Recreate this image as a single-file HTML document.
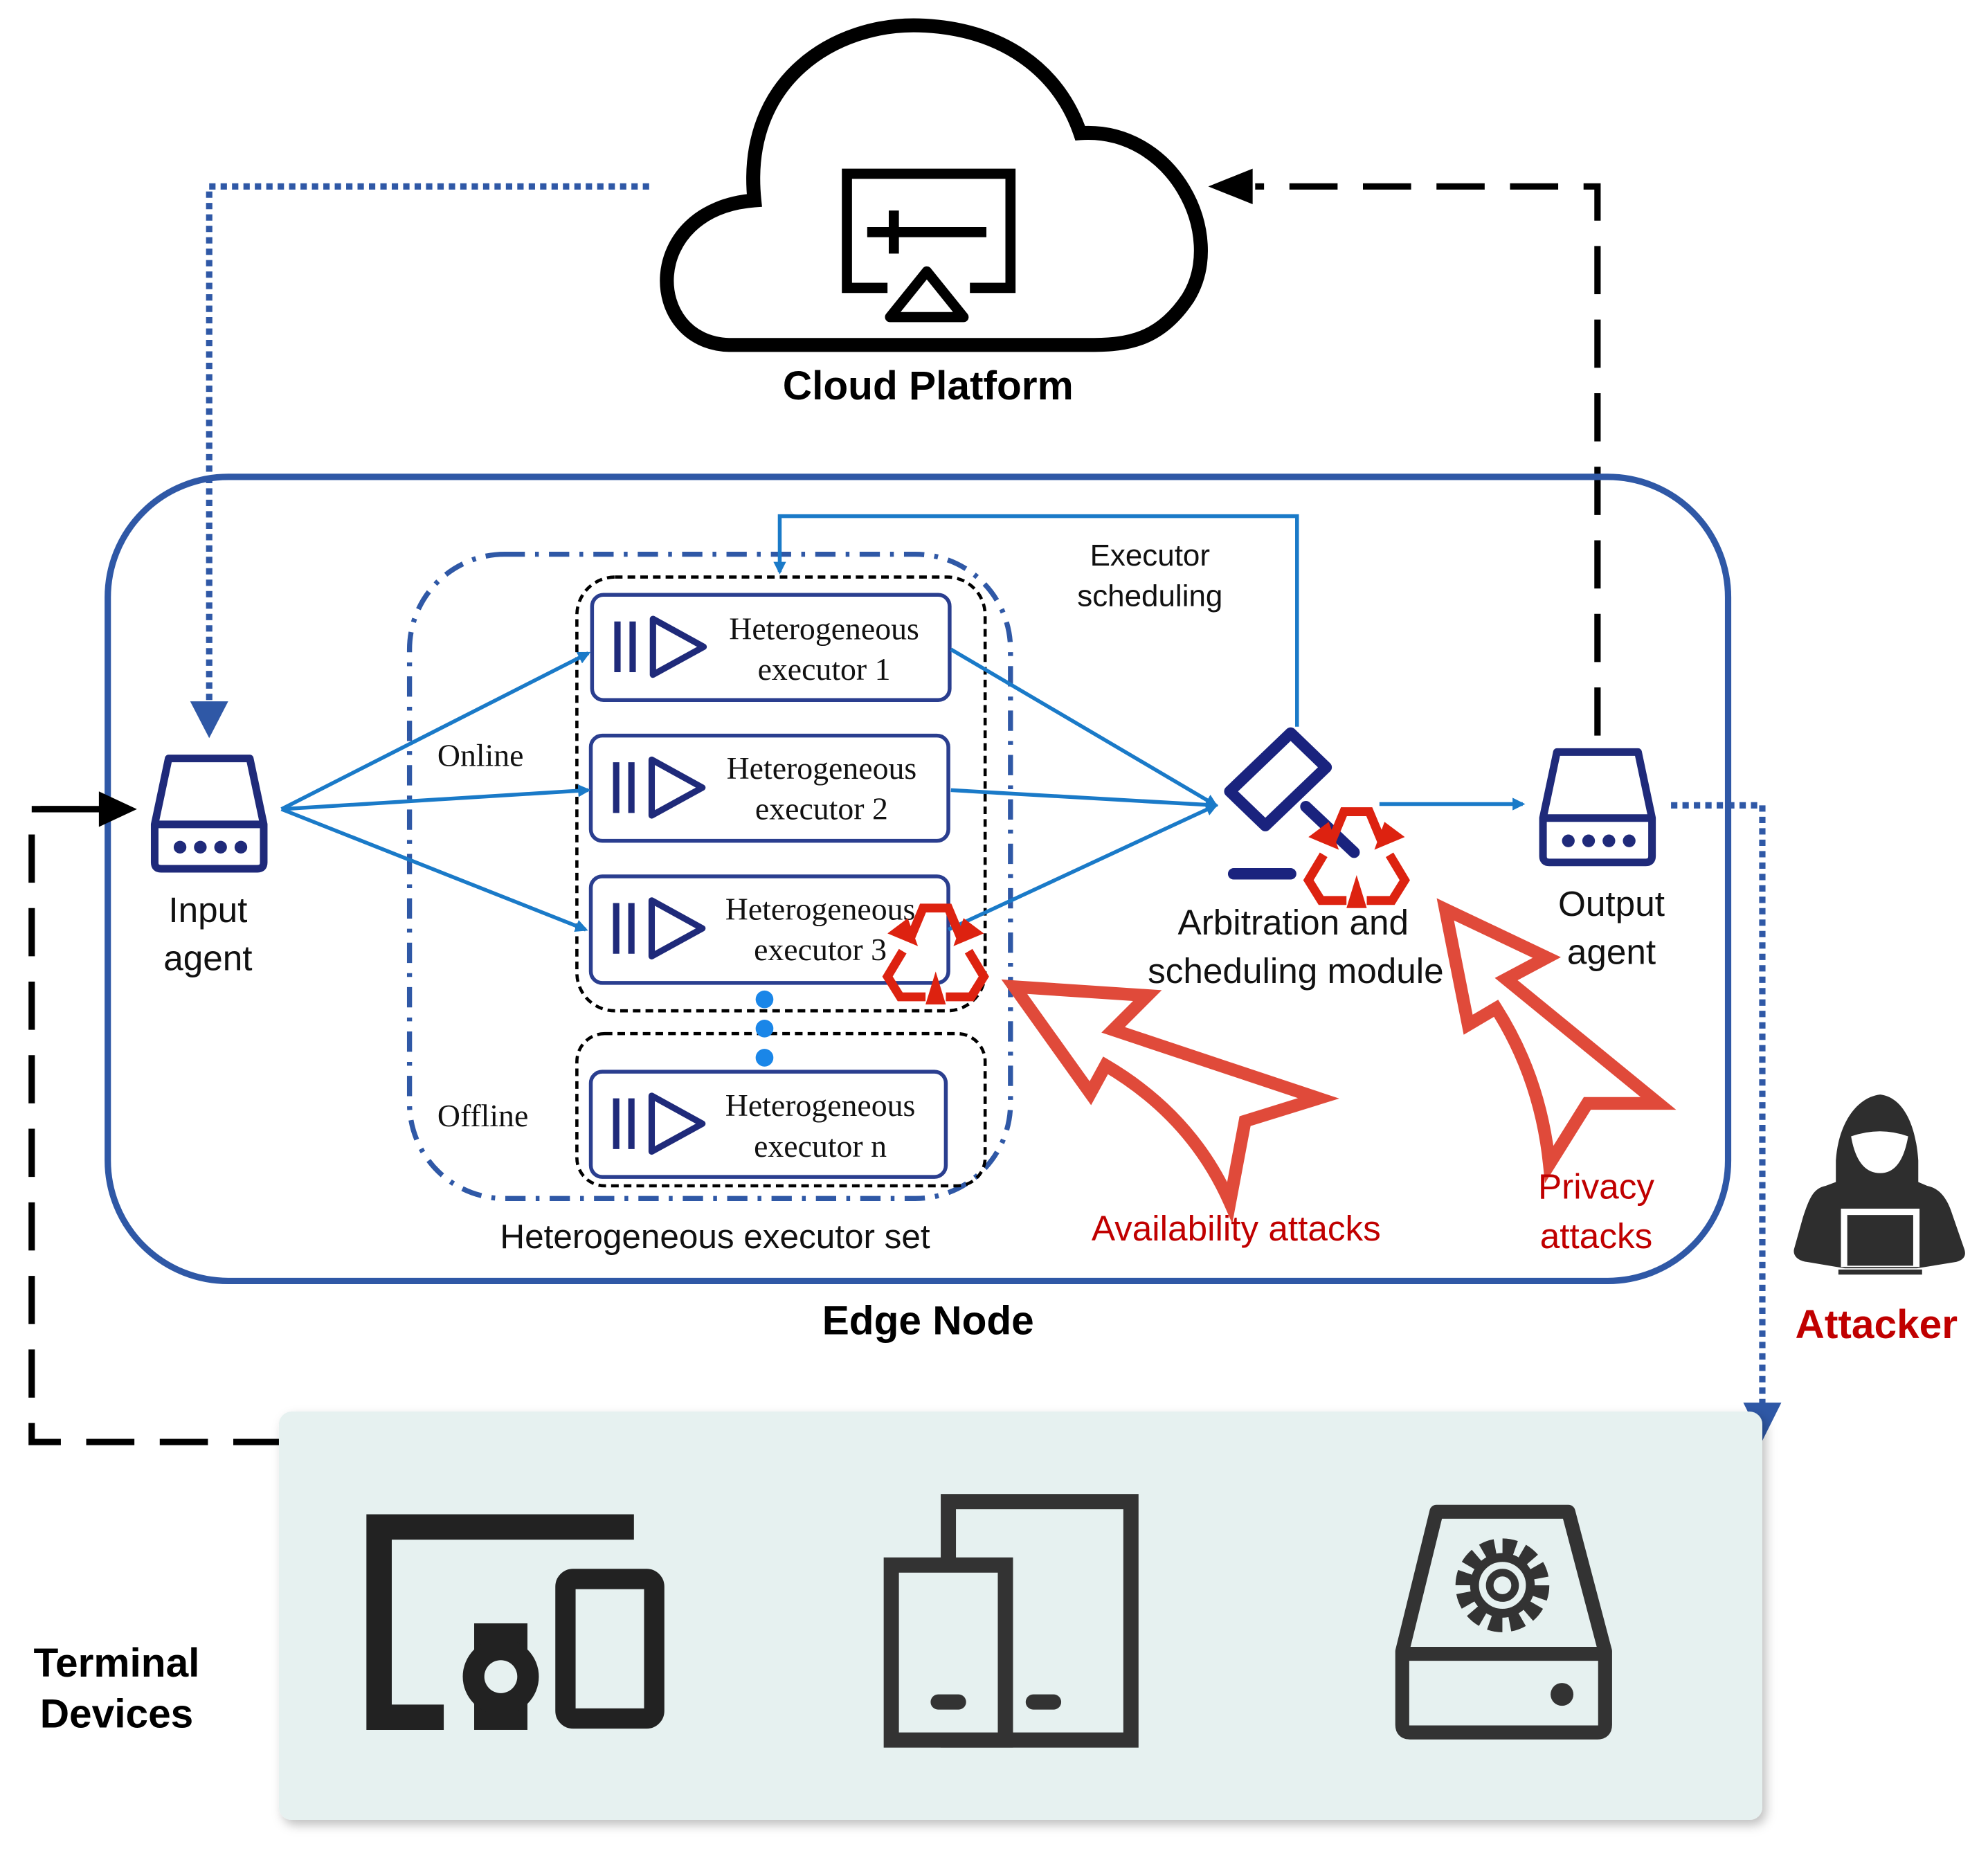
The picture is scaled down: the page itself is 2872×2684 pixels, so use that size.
<!DOCTYPE html>
<html><head><meta charset="utf-8"><style>
html,body{margin:0;padding:0;background:#fff}
svg{display:block}
text{font-family:"Liberation Sans","DejaVu Sans",sans-serif}
.tm{font-family:"Liberation Serif",serif;font-size:25px;fill:#111}
</style></head><body>
<svg width="2872" height="2684" viewBox="0 0 1568 1465" preserveAspectRatio="none" xmlns="http://www.w3.org/2000/svg">
<defs>
<marker id="ab" markerWidth="10" markerHeight="10" refX="8" refY="5" orient="auto" markerUnits="userSpaceOnUse"><path d="M0,0 L10,5 L0,10 Z" fill="#1a7ac8"/></marker>
<filter id="sh" x="-5%" y="-5%" width="110%" height="115%"><feDropShadow dx="3" dy="4" stdDeviation="4" flood-color="#000" flood-opacity="0.25"/></filter>
<g id="rec" fill="none" stroke="#dd2210" stroke-width="7" stroke-linejoin="miter">
<path d="M-20,-8 L-10,-32 L10,-32 L20,-8"/>
<path d="M-26,2 L-38,22 L-28,38 L-8,38"/>
<path d="M26,2 L38,22 L28,38 L8,38"/>
<path d="M-38,-12 L-14,-2 L-22,-24 Z" fill="#dd2210" stroke="none"/>
<path d="M38,-12 L14,-2 L22,-24 Z" fill="#dd2210" stroke="none"/>
<path d="M0,18 L-8,44 L8,44 Z" fill="#dd2210" stroke="none"/>
</g>
<g id="ex">
<line x1="20" y1="18" x2="20" y2="58" stroke="#1f2a7a" stroke-width="5"/>
<line x1="32" y1="18" x2="32" y2="58" stroke="#1f2a7a" stroke-width="5"/>
<path d="M48,16 L88,38 L48,60 Z" fill="none" stroke="#1f2a7a" stroke-width="5" stroke-linejoin="round"/>
</g>
<g id="agent" fill="none" stroke="#1f2a7a" stroke-width="6" stroke-linejoin="round">
<path d="M11,3 L75,3 L86,55 L86,85 Q86,90 81,90 L5,90 Q0,90 0,85 L0,55 Z"/>
<line x1="0" y1="55" x2="86" y2="55"/>
<g fill="#1f2a7a" stroke="none"><circle cx="20" cy="73" r="5"/><circle cx="36" cy="73" r="5"/><circle cx="52" cy="73" r="5"/><circle cx="68" cy="73" r="5"/></g>
</g>
</defs>

<!-- Cloud -->
<path d="M575,272 C508,270 505,165 595,158 C585,62 660,18 725,20 C790,22 835,55 852,105 C925,100 968,185 937,235 C915,268 890,272 860,272 Z" fill="#fff" stroke="#000" stroke-width="11"/>
<path d="M700,227 L668,227 L668,137 L797,137 L797,227 L765,227" fill="none" stroke="#000" stroke-width="8"/>
<line x1="684" y1="183" x2="778" y2="183" stroke="#000" stroke-width="8"/>
<line x1="705" y1="166" x2="705" y2="200" stroke="#000" stroke-width="8"/>
<path d="M702,250 L731,214 L760,250 Z" fill="#fff" stroke="#000" stroke-width="8" stroke-linejoin="round"/>
<text x="732" y="315" font-size="32" font-weight="bold" text-anchor="middle" fill="#000">Cloud Platform</text>

<!-- connectors top -->
<path d="M512,147 L165,147 L165,555" fill="none" stroke="#2f58a6" stroke-width="5" stroke-dasharray="5 4"/>
<path d="M150,553 L180,553 L165,582 Z" fill="#2f58a6"/>
<path d="M1260,580 L1260,147 L990,147" fill="none" stroke="#000" stroke-width="5" stroke-dasharray="38 20"/>
<path d="M988,133 L988,161 L953,147 Z" fill="#000"/>

<!-- Edge node -->
<rect x="85" y="376" width="1278" height="634" rx="95" fill="none" stroke="#2f58a6" stroke-width="5"/>
<text x="732" y="1052" font-size="32" font-weight="bold" text-anchor="middle" fill="#000">Edge Node</text>

<!-- executor set -->
<rect x="323" y="437" width="474" height="508" rx="75" fill="none" stroke="#2f58a6" stroke-width="4" stroke-dasharray="16 8 3 8"/>
<rect x="455" y="455" width="322" height="342" rx="30" fill="none" stroke="#000" stroke-width="2.5" stroke-dasharray="6 4"/>
<rect x="455" y="815" width="322" height="120" rx="22" fill="none" stroke="#000" stroke-width="2.5" stroke-dasharray="6 4"/>
<text x="564" y="984" font-size="27" text-anchor="middle" fill="#111">Heterogeneous executor set</text>
<text x="345" y="604" class="tm">Online</text>
<text x="345" y="888" class="tm">Offline</text>

<g fill="#fff" stroke="#2a3e8f" stroke-width="3">
<rect x="467" y="469" width="282" height="83" rx="9"/>
<rect x="466" y="580" width="282" height="83" rx="9"/>
<rect x="466" y="691" width="282" height="84" rx="9"/>
<rect x="466" y="845" width="280" height="83" rx="9"/>
</g>
<use href="#ex" x="467" y="472"/>
<use href="#ex" x="466" y="583"/>
<use href="#ex" x="466" y="694"/>
<use href="#ex" x="466" y="848"/>
<text x="650" y="504" class="tm" text-anchor="middle">Heterogeneous</text>
<text x="650" y="536" class="tm" text-anchor="middle">executor 1</text>
<text x="648" y="614" class="tm" text-anchor="middle">Heterogeneous</text>
<text x="648" y="646" class="tm" text-anchor="middle">executor 2</text>
<text x="647" y="725" class="tm" text-anchor="middle">Heterogeneous</text>
<text x="647" y="757" class="tm" text-anchor="middle">executor 3</text>
<text x="647" y="880" class="tm" text-anchor="middle">Heterogeneous</text>
<text x="647" y="912" class="tm" text-anchor="middle">executor n</text>
<g fill="#1a86e8"><circle cx="603" cy="788" r="7"/><circle cx="603" cy="811" r="7"/><circle cx="603" cy="834" r="7"/></g>

<!-- blue flow lines -->
<g stroke="#1a7ac8" stroke-width="3" fill="none" marker-end="url(#ab)">
<line x1="222" y1="638" x2="464" y2="515"/>
<line x1="222" y1="638" x2="464" y2="623"/>
<line x1="222" y1="638" x2="462" y2="733"/>
<line x1="750" y1="512" x2="959" y2="635"/>
<line x1="750" y1="623" x2="959" y2="635"/>
<line x1="748" y1="733" x2="959" y2="635"/>
<line x1="1088" y1="634" x2="1201" y2="634"/>
<path d="M1023,573 L1023,407 L615,407 L615,451"/>
</g>
<text x="907" y="446" font-size="24" text-anchor="middle" fill="#111">Executor</text>
<text x="907" y="478" font-size="24" text-anchor="middle" fill="#111">scheduling</text>

<!-- gavel -->
<g fill="none" stroke="#1a237e" stroke-width="9" stroke-linecap="round" stroke-linejoin="round">
<path d="M1018,578 L1046,605 L998,651 L970,624 Z"/>
<line x1="1030" y1="636" x2="1068" y2="672"/>
<line x1="973" y1="689" x2="1018" y2="689"/>
</g>
<use href="#rec" x="1070" y="672"/>
<use href="#rec" x="738" y="748"/>
<text x="1020" y="737" font-size="28" text-anchor="middle" fill="#111">Arbitration and</text>
<text x="1022" y="775" font-size="28" text-anchor="middle" fill="#111">scheduling module</text>

<!-- agents -->
<use href="#agent" x="122" y="595"/>
<use href="#agent" x="1217" y="590"/>
<text x="164" y="727" font-size="28" text-anchor="middle" fill="#111">Input</text>
<text x="164" y="765" font-size="28" text-anchor="middle" fill="#111">agent</text>
<text x="1271" y="722" font-size="28" text-anchor="middle" fill="#111">Output</text>
<text x="1271" y="760" font-size="28" text-anchor="middle" fill="#111">agent</text>

<!-- attack arrows -->
<g fill="none" stroke="#e04a3a" stroke-width="10" stroke-linejoin="miter">
<path d="M800,778 L905,785 L878,812 L1040,866 L982,884 L970,948 Q940,880 872,840 L860,862 Z"/>
<path d="M1140,717 L1220,755 L1188,772 L1308,870 L1252,870 L1222,918 Q1215,850 1180,795 L1158,808 Z"/>
</g>
<text x="975" y="978" font-size="28" text-anchor="middle" fill="#c00000">Availability attacks</text>
<text x="1259" y="945" font-size="28" text-anchor="middle" fill="#c00000">Privacy</text>
<text x="1259" y="984" font-size="28" text-anchor="middle" fill="#c00000">attacks</text>

<!-- output to terminal -->
<path d="M1318,635 L1390,635 L1390,1108" fill="none" stroke="#2f58a6" stroke-width="5" stroke-dasharray="5 4"/>
<path d="M1375,1106 L1405,1106 L1390,1136 Z" fill="#2f58a6"/>
<!-- terminal to input -->
<path d="M222,1137 L25,1137 L25,638 L80,638" fill="none" stroke="#000" stroke-width="5" stroke-dasharray="38 20"/>
<line x1="32" y1="638" x2="82" y2="638" stroke="#000" stroke-width="5"/>
<path d="M78,624 L78,652 L108,638 Z" fill="#000"/>

<!-- attacker -->
<g fill="#2e2e2e">
<path d="M1483,863 C1465,865 1450,885 1448,915 L1448,932 L1440,935 C1430,937 1427,945 1422,960 L1415,985 C1414,990 1418,994 1425,995 L1455,1000 L1512,1000 L1543,995 C1550,993 1551,989 1549,984 L1540,958 C1536,945 1530,937 1520,935 L1513,932 L1513,915 C1511,885 1500,865 1483,863 Z"/>
</g>
<path d="M1460,896 Q1483,888 1505,896 Q1500,925 1483,925 Q1465,925 1460,896 Z" fill="#fff"/>
<rect x="1452" y="953" width="62" height="46" fill="#fff"/>
<rect x="1457" y="958" width="52" height="40" fill="#2e2e2e"/>
<rect x="1450" y="1001" width="66" height="4" fill="#2e2e2e"/>
<text x="1480" y="1055" font-size="32" font-weight="bold" text-anchor="middle" fill="#c00000">Attacker</text>

<!-- terminal devices -->
<rect x="220" y="1113" width="1170" height="322" rx="10" fill="#e6f1f0" filter="url(#sh)"/>
<text x="92" y="1322" font-size="32" font-weight="bold" text-anchor="middle" fill="#000">Terminal</text>
<text x="92" y="1362" font-size="32" font-weight="bold" text-anchor="middle" fill="#000">Devices</text>
<!-- device 1 -->
<path d="M500,1204 L299,1204 L299,1354 L350,1354" fill="none" stroke="#222" stroke-width="20"/>
<rect x="374" y="1280" width="42" height="84" fill="#222"/>
<circle cx="395" cy="1322" r="30" fill="#222"/>
<circle cx="395" cy="1322" r="13" fill="#e6f1f0"/>
<rect x="446" y="1245" width="70" height="110" rx="6" fill="none" stroke="#222" stroke-width="16"/>
<!-- device 2 -->
<rect x="748" y="1184" width="144" height="188" fill="none" stroke="#333" stroke-width="12"/>
<rect x="703" y="1234" width="90" height="138" fill="#e6f1f0" stroke="#333" stroke-width="12"/>
<line x1="740" y1="1342" x2="756" y2="1342" stroke="#333" stroke-width="12" stroke-linecap="round"/>
<line x1="815" y1="1342" x2="831" y2="1342" stroke="#333" stroke-width="12" stroke-linecap="round"/>
<!-- device 3 -->
<path d="M1133,1192 L1237,1192 L1266,1302 L1266,1360 Q1266,1366 1260,1366 L1112,1366 Q1106,1366 1106,1360 L1106,1302 Z" fill="none" stroke="#333" stroke-width="11" stroke-linejoin="round"/>
<line x1="1106" y1="1304" x2="1266" y2="1304" stroke="#333" stroke-width="11"/>
<circle cx="1232" cy="1336" r="9" fill="#333"/>
<circle cx="1185" cy="1250" r="30" fill="none" stroke="#333" stroke-width="14" stroke-dasharray="10 5.7"/>
<circle cx="1185" cy="1250" r="22" fill="none" stroke="#333" stroke-width="7"/>
<circle cx="1185" cy="1250" r="10" fill="none" stroke="#333" stroke-width="6"/>
</svg>
</body></html>
